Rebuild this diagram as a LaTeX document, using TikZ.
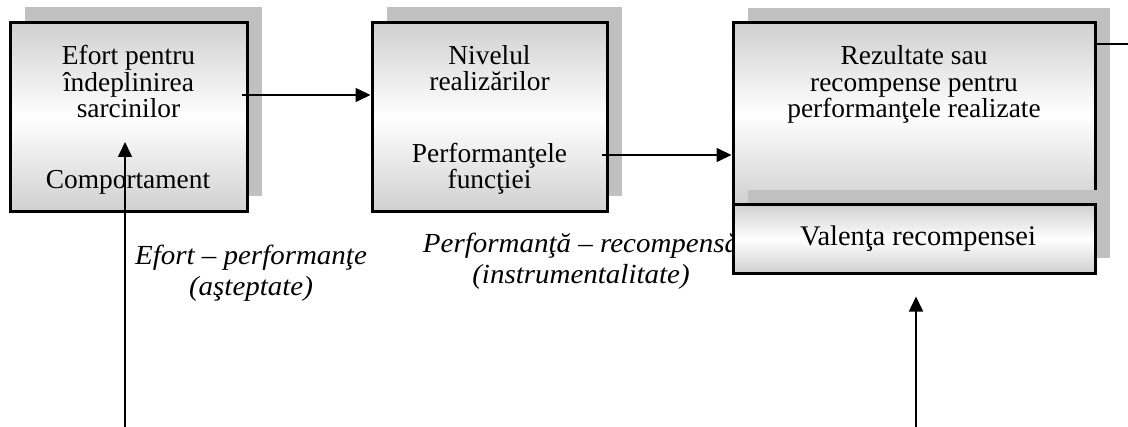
\documentclass[tikz,border=0pt]{standalone}
\usepackage{fontspec}
\setmainfont{Liberation Serif}
\newfontfamily\capfont{Liberation Serif}[FakeStretch=1.05]
\usetikzlibrary{shadows,arrows.meta}
\definecolor{boxgray}{RGB}{208,208,208}
\definecolor{shadowgray}{RGB}{192,192,192}
\begin{document}
\begin{tikzpicture}[x=0.5pt,y=-0.5pt,
  box/.style={draw=black, line width=1.5pt, rectangle, inner sep=0pt,
    top color=boxgray, bottom color=boxgray, middle color=white,
    general shadow={fill=shadowgray, shadow xshift=7.5pt, shadow yshift=7.5pt}},
  txt/.style={font={\fontsize{13.7pt}{13.25pt}\selectfont}, align=center, inner sep=0pt},
  lbl/.style={font={\capfont\itshape\fontsize{13.8pt}{15.5pt}\selectfont}, align=center, inner sep=0pt},
  arr/.style={line width=0.8pt, -{Triangle[length=7.5pt,width=7pt]}},
  link/.style={line width=0.8pt}]
\useasboundingbox (0,0) rectangle (1128,427);

% italic captions between the stages
\node[lbl] (l1) at (251,273) {Efort – performanţe\\(aşteptate)};
\node[lbl] (l2) at (581,261) {Performanţă – recompensă\\(instrumentalitate)};

% the stage boxes
\node[box, minimum width=118.5pt, minimum height=94.5pt] (b1) at (128.5,117) {};
\node[box, minimum width=117.5pt, minimum height=94.5pt] (b2) at (489.5,117) {};
\node[box, minimum width=181pt, minimum height=91pt] (b3) at (914,114) {};
\node[box, minimum width=181pt, minimum height=34pt] (b4) at (914,239) {};

% box texts
\node[txt] (t1) at (128.5,81.5) {Efort pentru\\îndeplinirea\\sarcinilor};
\node[txt] (t2) at (128,182.5) {Comportament};
\node[txt] (t3) at (489.5,68) {Nivelul\\realizărilor};
\node[txt] (t4) at (489.5,169) {Performanţele\\funcţiei};
\node[txt] (t5) at (914,84.5) {Rezultate sau\\recompense pentru\\performanţele realizate};
\node[txt, font={\fontsize{14.2pt}{14.5pt}\selectfont}] (t6) at (918,239) {Valenţa recompensei};

% connectors
\path ([shift={(-3.5pt,11pt)}]b1.east) coordinate (a1s);
\draw[arr] (a1s) -- (a1s -| b2.west);
\path ([shift={(-3.5pt,-19pt)}]b2.east) coordinate (a2s);
\draw[arr] (a2s) -- (a2s -| b3.west);

\coordinate (f1) at (125,427);
\path ([yshift=-12.5pt]b1.center) coordinate (a3e);
\draw[arr] (f1) -- (f1 |- a3e);

\coordinate (f2) at (916,427);
\path ([yshift=-11pt]b4.south) coordinate (a4e);
\draw[arr] (f2) -- (f2 |- a4e);

\coordinate (f3) at (1128,44);
\draw[link] (b3.east |- f3) -- (f3);
\end{tikzpicture}
\end{document}
